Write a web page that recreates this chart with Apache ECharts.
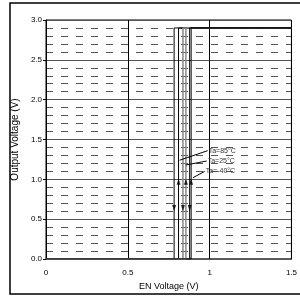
<!DOCTYPE html>
<html>
<head>
<meta charset="UTF-8">
<title></title>
<script src="https://cdn.jsdelivr.net/npm/echarts@6/dist/echarts.min.js"></script>
<style>
  html, body { margin: 0; padding: 0; background: #fff; }
  #main { width: 300px; height: 300px; }
</style>
</head>
<body>
<div id="main"></div>
<script>
// data
var temps = ['Ta=85°C', 'Ta=25°C', 'Ta=-40°C'];
var riseV = [0.81, 0.855, 0.887];   // EN rising threshold (up arrow)
var fallV = [0.783, 0.837, 0.878];  // EN falling threshold (down arrow)
var highOut = 2.9;
var upArrowOut = 0.97;
var downArrowOut = 0.64;
// leader lines: start and end point (label sits at the end)
var leaderFrom = [[0.817, 1.24], [0.855, 1.18], [0.898, 1.02]];
var leaderTo = [[0.988, 1.36], [0.982, 1.23], [0.97, 1.10]];
var lineColors = ['#000', '#888', '#000'];
var xTicks = ['0', '0.5', '1', '1.5'];

var font = "'Liberation Sans Narrow', 'Liberation Sans', Arial, sans-serif";
var series = [];

for (var i = 0; i < temps.length; i++) {
	series.push({
		type: 'line',
		name: temps[i],
		data: [[0, 0], [riseV[i], 0], [riseV[i], highOut], [1.5, highOut], [fallV[i], highOut], [fallV[i], 0]],
		symbol: 'none',
		lineStyle: { color: lineColors[i], width: i == 1 ? 1.5 : 1 },
		z: 3
	});
	// leader line + label
	series.push({
		type: 'line',
		data: [leaderFrom[i], leaderTo[i]],
		symbol: 'none',
		lineStyle: { color: '#000', width: 1 },
		endLabel: { show: true, distance: 1, formatter: temps[i],
			fontSize: 7, color: '#333', fontFamily: font },
		z: 4
	});
}

// arrows
var upPts = [], downPts = [];
for (var i = 0; i < temps.length; i++) {
	upPts.push([riseV[i], upArrowOut]);
	downPts.push([fallV[i], downArrowOut]);
}
series.push({
	type: 'scatter', data: upPts, symbol: 'triangle', symbolSize: [4, 6],
	itemStyle: { color: '#000' }, z: 5
});
series.push({
	type: 'scatter', data: downPts, symbol: 'triangle', symbolSize: [4, 6], symbolRotate: 180,
	itemStyle: { color: '#000' }, z: 5
});

var myChart = echarts.init(document.getElementById('main'));
var option = {
	animation: false,
	graphic: [{
		type: 'rect',
		shape: { x: 10, y: 3, width: 300, height: 291 },
		style: { fill: 'none', stroke: '#000', lineWidth: 1.5 },
		z: -1
	}],
	grid: { left: 46, right: 5, top: 20, bottom: 41, show: true, borderColor: '#000', borderWidth: 1 },
	xAxis: {
		type: 'value', min: 0, max: 1.5, interval: 0.5,
		name: 'EN Voltage (V)', nameLocation: 'middle', nameGap: 23,
		nameTextStyle: { fontSize: 9, color: '#000', fontFamily: font },
		axisLine: { lineStyle: { color: '#555', width: 1.5 } },
		axisTick: { inside: true, length: 3, lineStyle: { color: '#000' } },
		axisLabel: { fontSize: 8, color: '#000', fontFamily: font, margin: 10,
			formatter: function (v) { return xTicks[Math.round(v / 0.5)]; } },
		splitLine: { show: true, lineStyle: { color: '#000', width: 1 } }
	},
	yAxis: {
		type: 'value', min: 0, max: 3, interval: 0.5,
		name: 'Output Voltage (V)', nameLocation: 'middle', nameGap: 20,
		nameTextStyle: { fontSize: 10, color: '#000', fontFamily: "'Liberation Sans', Arial, sans-serif" },
		axisLine: { lineStyle: { color: '#000', width: 1 } },
		axisTick: { length: 3, lineStyle: { color: '#000' } },
		axisLabel: { fontSize: 8, color: '#000', fontFamily: font, margin: 4,
			formatter: function (v) { return v.toFixed(1); } },
		splitLine: { show: true, lineStyle: { color: '#555', width: 1 } },
		minorTick: { show: false, splitNumber: 5 },
		minorSplitLine: { show: true, lineStyle: { color: '#555', width: 1, type: [7, 8] } }
	},
	series: series
};
myChart.setOption(option);
</script>
</body>
</html>
